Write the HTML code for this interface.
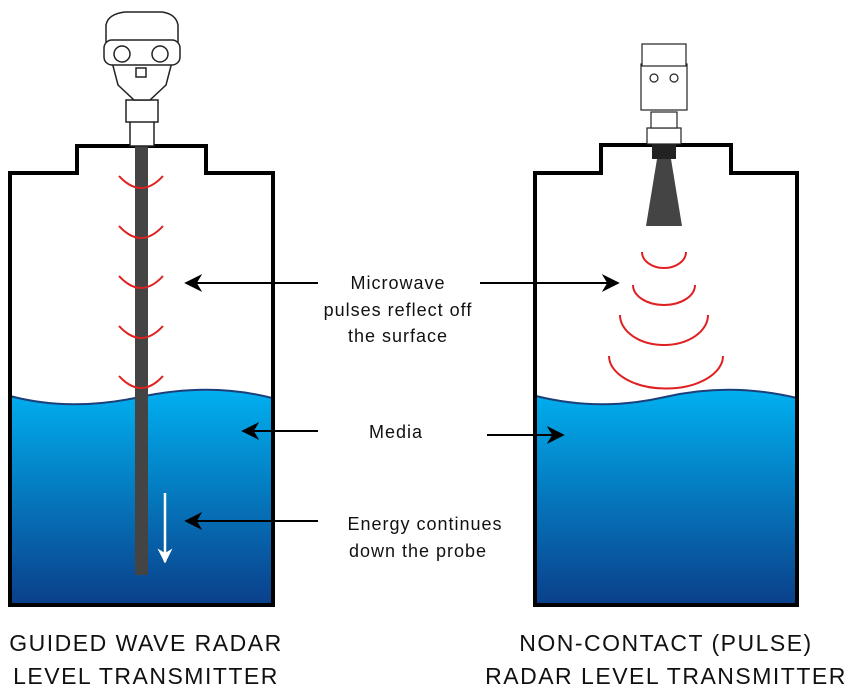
<!DOCTYPE html>
<html><head><meta charset="utf-8"><style>
body{margin:0;background:#fff}
svg{display:block}
text{font-family:"Liberation Sans",sans-serif;fill:#111}
</style></head><body>
<svg width="862" height="695" viewBox="0 0 862 695" xmlns="http://www.w3.org/2000/svg">
<defs>
<linearGradient id="w" x1="0" y1="0" x2="0" y2="1">
<stop offset="0" stop-color="#00b0f0"/><stop offset="1" stop-color="#0a3f8a"/>
</linearGradient>
<marker id="a" viewBox="0 0 10 10" refX="9" refY="5" markerWidth="9" markerHeight="9" orient="auto"><path d="M0,0 L10,5 L0,10 L3,5z" fill="#000"/></marker>
<marker id="aw" viewBox="0 0 10 10" refX="9" refY="5" markerWidth="6" markerHeight="7" orient="auto"><path d="M0,0 L10,5 L0,10 L3,5z" fill="#fff"/></marker>
</defs>
<path d="M10,396 Q70,412 140,397 T272,398 L272,605 L10,605Z" fill="url(#w)"/>
<path d="M10,396 Q70,412 140,397 T272,398" fill="none" stroke="#1c3f7a" stroke-width="2"/>
<path d="M10,605 L10,173 L77,173 L77,146 L206,146 L206,173 L273,173 L273,605Z" fill="none" stroke="#000" stroke-width="4"/>
<rect x="135" y="146" width="13" height="429" fill="#444"/>
<g fill="none" stroke="#e02020" stroke-width="2">
<path d="M119,176 Q141,200 163,176"/><path d="M119,226 Q141,250 163,226"/>
<path d="M119,276 Q141,300 163,276"/><path d="M119,326 Q141,350 163,326"/>
<path d="M119,376 Q141,400 163,376"/>
</g>
<line x1="165" y1="493" x2="165" y2="562" stroke="#fff" stroke-width="2.5" marker-end="url(#aw)"/>
<g stroke="#222" stroke-width="1.5" fill="#fff">
<rect x="130" y="120" width="24" height="26"/>
<rect x="126" y="100" width="32" height="22"/>
<path d="M112,62 L172,62 L166,85 L150,100 L134,100 L118,85Z"/>
<path d="M106,25 Q108,14 125,12 L162,12 Q176,14 178,25 L178,48 L106,48Z"/>
<rect x="104" y="40" width="76" height="25" rx="8"/>
<circle cx="122" cy="54" r="8"/><circle cx="160" cy="54" r="8"/>
<rect x="136" y="68" width="10" height="9"/>
</g>
<path d="M536,396 Q600,412 665,397 T797,398 L797,605 L536,605Z" fill="url(#w)"/>
<path d="M536,396 Q600,412 665,397 T797,398" fill="none" stroke="#1c3f7a" stroke-width="2"/>
<path d="M535,605 L535,173 L601,173 L601,145 L731,145 L731,173 L797,173 L797,605Z" fill="none" stroke="#000" stroke-width="4"/>
<rect x="652" y="144" width="24" height="15" fill="#222"/>
<path d="M657,159 L671,159 L682,226 L646,226Z" fill="#444"/>
<g fill="none" stroke="#e02020" stroke-width="2">
<path d="M642,252 A22,16 0 0 0 686,252"/>
<path d="M633,285 A31,20 0 0 0 695,285"/>
<path d="M620,315 A44,30 0 0 0 708,315"/>
<path d="M609,356 A56,32 0 0 0 723,356"/>
</g>
<g stroke="#222" stroke-width="1.2" fill="#fff">
<rect x="647" y="128" width="34" height="16"/>
<rect x="651" y="112" width="26" height="16"/>
<rect x="641" y="64" width="46" height="46"/>
<rect x="642" y="44" width="44" height="22"/>
<circle cx="654" cy="78" r="4"/><circle cx="674" cy="78" r="4"/>
</g>
<g stroke="#000" stroke-width="2">
<line x1="318" y1="283" x2="186" y2="283" marker-end="url(#a)"/>
<line x1="480" y1="283" x2="618" y2="283" marker-end="url(#a)"/>
<line x1="318" y1="431" x2="243" y2="431" marker-end="url(#a)"/>
<line x1="487" y1="435" x2="563" y2="435" marker-end="url(#a)"/>
<line x1="318" y1="521" x2="186" y2="521" marker-end="url(#a)"/>
</g>
<g font-size="18" text-anchor="middle" letter-spacing="1">
<text x="398" y="289">Microwave</text>
<text x="398" y="316">pulses reflect off</text>
<text x="398" y="342">the surface</text>
<text x="396" y="438">Media</text>
<text x="425" y="530">Energy continues</text>
<text x="418" y="557">down the probe</text>
</g>
<g font-size="23" text-anchor="middle" letter-spacing="1.5">
<text x="146" y="651">GUIDED WAVE RADAR</text>
<text x="146" y="684">LEVEL TRANSMITTER</text>
<text x="666" y="651">NON-CONTACT (PULSE)</text>
<text x="666" y="684">RADAR LEVEL TRANSMITTER</text>
</g>
</svg>
</body></html>
